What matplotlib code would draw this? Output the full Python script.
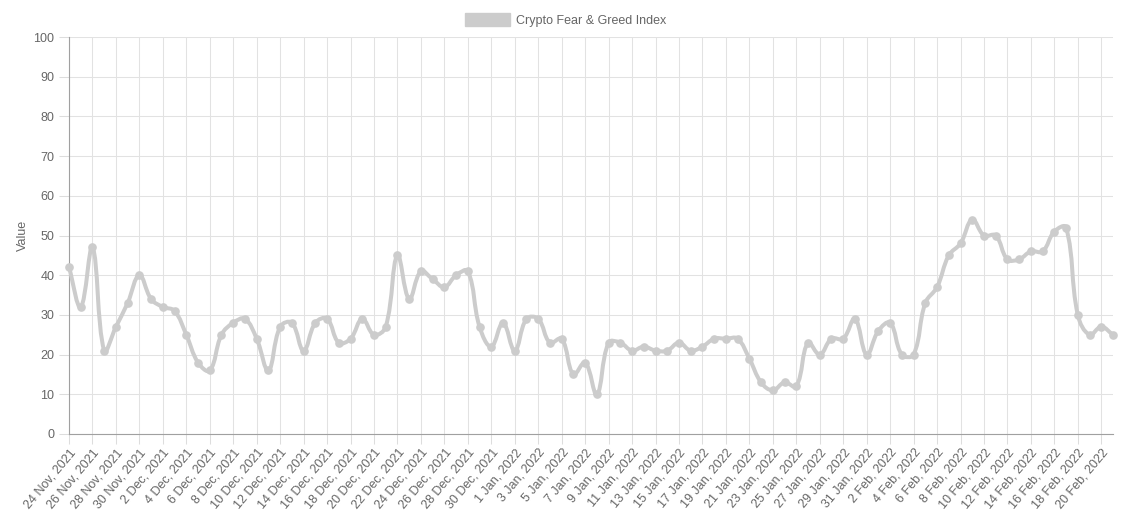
import datetime as dt
import numpy as np
import matplotlib
matplotlib.use('Agg')
import matplotlib.pyplot as plt
from matplotlib.path import Path
from matplotlib.patches import PathPatch, Patch

# Daily index values, 24 Nov 2021 .. 21 Feb 2022
start_date = dt.date(2021, 11, 24)
values = [
    42, 32, 47, 21, 27, 33, 40,                      # 24-30 Nov
    34, 32, 31, 25, 18, 16, 25, 28, 29, 24, 16,      # 1-11 Dec
    27, 28, 21, 28, 29, 23, 24, 29, 25, 27, 45,      # 12-22 Dec
    34, 41, 39, 37, 40, 41, 27, 22, 28,              # 23-31 Dec
    21, 29, 29, 23, 24, 15, 18, 10, 23, 23, 21,      # 1-11 Jan
    22, 21, 21, 23, 21, 22, 24, 24, 24, 19, 13,      # 12-22 Jan
    11, 13, 12, 23, 20, 24, 24, 29, 20,              # 23-31 Jan
    26, 28, 20, 20, 33, 37, 45, 48, 54, 50, 50,      # 1-11 Feb
    44, 44, 46, 46, 51, 52, 30, 25, 27, 25,          # 12-21 Feb
]
dates = [start_date + dt.timedelta(days=i) for i in range(len(values))]
tick_labels = [f"{d.day} {d.strftime('%b')}, {d.year}" for d in dates]
series_name = "Crypto Fear & Greed Index"

line_color = '#cccccc'
text_color = '#666666'

plt.rcParams['font.family'] = ['Liberation Sans', 'DejaVu Sans']

fig = plt.figure(figsize=(11.33, 5.15), dpi=100)
ax = fig.add_axes([69 / 1133, 81 / 515, 1044 / 1133, 397 / 515])

x = np.arange(len(values))
y = np.array(values, dtype=float)
ax.set_xlim(0, len(values) - 1)
ax.set_ylim(0, 100)

# Bezier smoothing (tension 0.4) computed in pixel space
fig.canvas.draw()
pts = ax.transData.transform(np.column_stack([x, y]))
tension = 0.4
verts = [pts[0]]
codes = [Path.MOVETO]
n = len(pts)
cp_prev = [None] * n
cp_next = [None] * n
for i in range(n):
    p0 = pts[i - 1] if i > 0 else pts[i]
    p1 = pts[i]
    p2 = pts[i + 1] if i < n - 1 else pts[i]
    d01 = np.hypot(*(p1 - p0))
    d12 = np.hypot(*(p2 - p1))
    tot = d01 + d12
    s01 = d01 / tot if tot else 0
    s12 = d12 / tot if tot else 0
    cp_prev[i] = p1 - tension * s01 * (p2 - p0)
    cp_next[i] = p1 + tension * s12 * (p2 - p0)
for i in range(1, n):
    verts += [cp_next[i - 1], cp_prev[i], pts[i]]
    codes += [Path.CURVE4] * 3
inv = ax.transData.inverted()
path = Path(inv.transform(np.array(verts)), codes)
ax.add_patch(PathPatch(path, facecolor='none', edgecolor=line_color, lw=2.9, zorder=3,
                       capstyle='round', joinstyle='round', clip_on=False))
ax.plot(x, y, 'o', color=line_color, ms=5.2, zorder=4, clip_on=False)

# Axes styling
ax.set_yticks(range(0, 101, 10))
ax.set_xticks(x[::2])
ax.set_xticklabels(tick_labels[::2], rotation=50, ha='right', va='top',
                   rotation_mode='anchor')
ax.tick_params(axis='both', colors='#dddddd', labelcolor=text_color, labelsize=9,
               length=7, width=0.75)
ax.tick_params(axis='x', pad=2)
ax.grid(True, color='#e2e2e2', lw=0.75)
ax.set_axisbelow(True)
for side in ['top', 'right']:
    ax.spines[side].set_visible(False)
for side in ['left', 'bottom']:
    ax.spines[side].set_color('#a0a0a0')
    ax.spines[side].set_linewidth(0.8)
ax.set_ylabel('Value', color=text_color, fontsize=9, labelpad=3)

fig.legend(handles=[Patch(facecolor=line_color, edgecolor=line_color, label=series_name)],
           loc='center', bbox_to_anchor=(566 / 1133, 1 - 20 / 515), frameon=False,
           fontsize=9, handlelength=3.6, handleheight=1.2, labelcolor=text_color,
           handletextpad=0.5)

fig.savefig('out.png', dpi=100)
